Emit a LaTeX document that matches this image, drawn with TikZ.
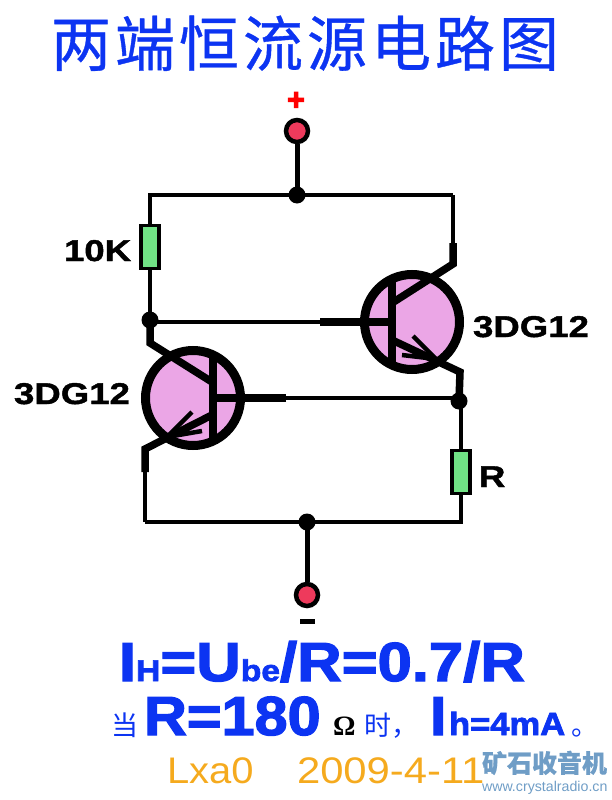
\documentclass[tikz,border=0pt]{standalone}
\usepackage{fontspec}
\newfontfamily\cjk[FakeBold=0.6]{Noto Sans CJK SC}
\newfontfamily\cjkthin{Noto Sans CJK SC}
\newfontfamily\hv[FakeStretch=1.22,FakeBold=1.4]{Liberation Sans}
\newfontfamily\hvb[FakeStretch=1.12,FakeBold=2.4]{Liberation Sans}
\newfontfamily\hvc[FakeStretch=1.08,FakeBold=2.4]{Liberation Sans}
\newfontfamily\hvp[FakeBold=4]{Liberation Sans}
\newfontfamily\plain[FakeStretch=1.08]{Liberation Sans}
\newfontfamily\plainw[FakeStretch=1.13]{Liberation Sans}
\newfontfamily\wmfont{Liberation Sans}
\newfontfamily\serif{Liberation Serif}
\definecolor{tblue}{HTML}{0C34F2}
\definecolor{pinkf}{HTML}{EBA6E6}
\definecolor{greenf}{HTML}{70E285}
\definecolor{redf}{HTML}{EE3A5C}
\definecolor{orangef}{HTML}{F5AA1E}
\definecolor{wm}{HTML}{6F9DC6}
\tikzset{
  wire/.style={line width=4pt,black},
  lead/.style={line width=5pt,black},
  fat/.style={line width=7.5pt,black},
  tip/.style={line width=4.5pt,black},
  ring/.style={circle,draw=black,line width=9pt,fill=pinkf,minimum size=95pt,inner sep=0pt},
  dot/.style={circle,fill=black,minimum size=17pt,inner sep=0pt},
  term/.style={circle,draw=black,line width=4.5pt,fill=redf,minimum size=22pt,inner sep=0pt},
  res/.style={rectangle,draw=black,line width=3.5pt,fill=greenf,minimum width=18pt,minimum height=43pt,inner sep=0pt},
  txt/.style={anchor=base west,inner sep=0pt,outer sep=0pt},
  lab/.style={txt,font=\hv\bfseries\fontsize{30}{30}\selectfont,black},
}
\begin{document}
\begin{tikzpicture}[x=1pt,y=-1pt]
\useasboundingbox (0,0) rectangle (612,800);
% title
\node[txt,text=tblue] (title) at (51,66) {\cjk\fontsize{60}{60}\selectfont 两\hspace{4pt}端\hspace{4pt}恒\hspace{4pt}流\hspace{4pt}源\hspace{4pt}电\hspace{4pt}路\hspace{4pt}图};
% terminals and junctions
\node[term] (vp) at (297,131) {};
\node[term] (vm) at (307,595) {};
\node[dot] (jt) at (297,195) {};
\node[dot] (jb) at (307,522) {};
\node[dot] (jl) at (150,320) {};
\node[dot] (jr) at (459,401) {};
\node[res] (r1) at (150,247) {};
\node[res] (r2) at (461,472) {};
% wires
\coordinate (tl) at (150,195);
\coordinate (tr) at (453,195);
\coordinate (bl) at (145,522);
\coordinate (br) at (461,522);
\draw[lead] (vp) -- (jt.center);
\draw[wire,line join=miter] (r1.north) -- (tl) -- (jt.center) -- (tr);
\draw[wire] (r1.south) -- (jl.center);
\draw[lead] (vm) -- (jb.center);
\draw[wire,line join=miter] (bl) -- (jb.center) -- (br) -- (r2.south);
\draw[wire] (r2.north |- jr) -- (r2.north);
% right transistor
\node[ring] (q1) at (412,322) {};
\coordinate (q1bt) at (392,281);
\coordinate (q1bb) at (392,364);
\coordinate (q1b) at (392,322);
\coordinate (q1bf) at (320,322);
\coordinate (q1c1) at (392,303);
\coordinate (q1c2) at (453,264);
\coordinate (q1c3) at (453,243);
\coordinate (q1e1) at (392,340);
\coordinate (q1e2) at (460,372);
\coordinate (q1t) at (436,359);
\draw[wire] (q1c3) -- (tr);
\draw[wire] (jl.center |- q1bf) -- (q1bf);
\draw[fat,line cap=butt] (q1bf) -- (q1b);
\draw[fat,line cap=butt] (q1bt) -- (q1bb);
\draw[fat,line join=miter] (q1c1) -- (q1c2) -- (q1c3);
\draw[fat,line join=miter] (q1e1) -- (q1e2) -- (jr.center);
\draw[tip] (413,336) -- (q1t) -- (402,355);
% left transistor
\node[ring] (q2) at (193,398) {};
\coordinate (q2bt) at (213,358);
\coordinate (q2bb) at (213,441);
\coordinate (q2b) at (213,398);
\coordinate (q2bf) at (286,398);
\coordinate (q2c1) at (212,382);
\coordinate (q2c2) at (150,343);
\coordinate (q2e1) at (212,415);
\coordinate (q2e2) at (145,449);
\coordinate (q2e3) at (145,472);
\coordinate (q2t) at (167,437);
\draw[wire] (q2e3) -- (bl);
\draw[wire] (q2bf) -- (q2bf -| jr);
\draw[fat,line cap=butt] (q2bf) -- (q2b);
\draw[fat,line cap=butt] (q2bt) -- (q2bb);
\draw[fat,line join=miter] (q2c1) -- (q2c2) -- (jl.center);
\draw[fat,line join=miter] (q2e1) -- (q2e2) -- (q2e3);
\draw[tip] (192,412) -- (q2t) -- (202,431);
% labels
\node[lab] (l10k) at (64,261) {10K};
\node[lab] (l3a) at (473,337) {3DG12};
\node[lab] (l3b) at (14,404) {3DG12};
\node[lab] (lr) at (479,487) {R};
\node[anchor=center,inner sep=0pt,text=red,font=\hvp\bfseries\fontsize{30}{30}\selectfont] (lp) at (296,101) {+};
\node[rectangle,fill=black,minimum width=15pt,minimum height=5pt,inner sep=0pt] (lm) at (307,621) {};
% formula 1
\node[txt,text=tblue,font=\hvb\bfseries] (f1) at (119,681) {\fontsize{55}{55}\selectfont I\fontsize{30}{30}\selectfont H\fontsize{55}{55}\selectfont =U\fontsize{30}{30}\selectfont be\fontsize{55}{55}\selectfont /R=0.7/R};
% formula 2
\node[txt,text=tblue,font=\cjkthin\fontsize{27}{27}\selectfont] (f2a) at (111,735) {当};
\node[txt,text=tblue,font=\hvc\bfseries\fontsize{55}{55}\selectfont] (f2b) at (144,735) {R=180};
\node[txt,text=black,font=\serif\bfseries\fontsize{28}{28}\selectfont] (f2c) at (333,735) {Ω};
\node[txt,text=tblue,font=\cjkthin\fontsize{27}{27}\selectfont] (f2d) at (364,735) {时，};
\node[txt,text=tblue,font=\hvc\bfseries\fontsize{55}{55}\selectfont] (f2e) at (430,735) {I};
\node[txt,text=tblue,font=\hvc\bfseries\fontsize{32}{32}\selectfont] (f2f) at (449,735) {h=4mA};
\node[txt,text=tblue,font=\cjkthin\fontsize{27}{27}\selectfont] (f2g) at (571,735) {。};
% author
\node[txt,text=orangef,font=\plain\fontsize{37}{37}\selectfont] (au1) at (167,783) {Lxa0};
\node[txt,text=orangef,font=\plainw\fontsize{37}{37}\selectfont] (au2) at (297,783) {2009-4-11};
% watermark
\node[txt,text=wm,font=\cjk\bfseries\fontsize{25}{25}\selectfont] (wm1) at (482,772.5) {矿石收音机};
\node[txt,text=wm,font=\wmfont\fontsize{14.2}{14.2}\selectfont] (wm2) at (482,791) {www.crystalradio.cn};
\end{tikzpicture}
\end{document}
